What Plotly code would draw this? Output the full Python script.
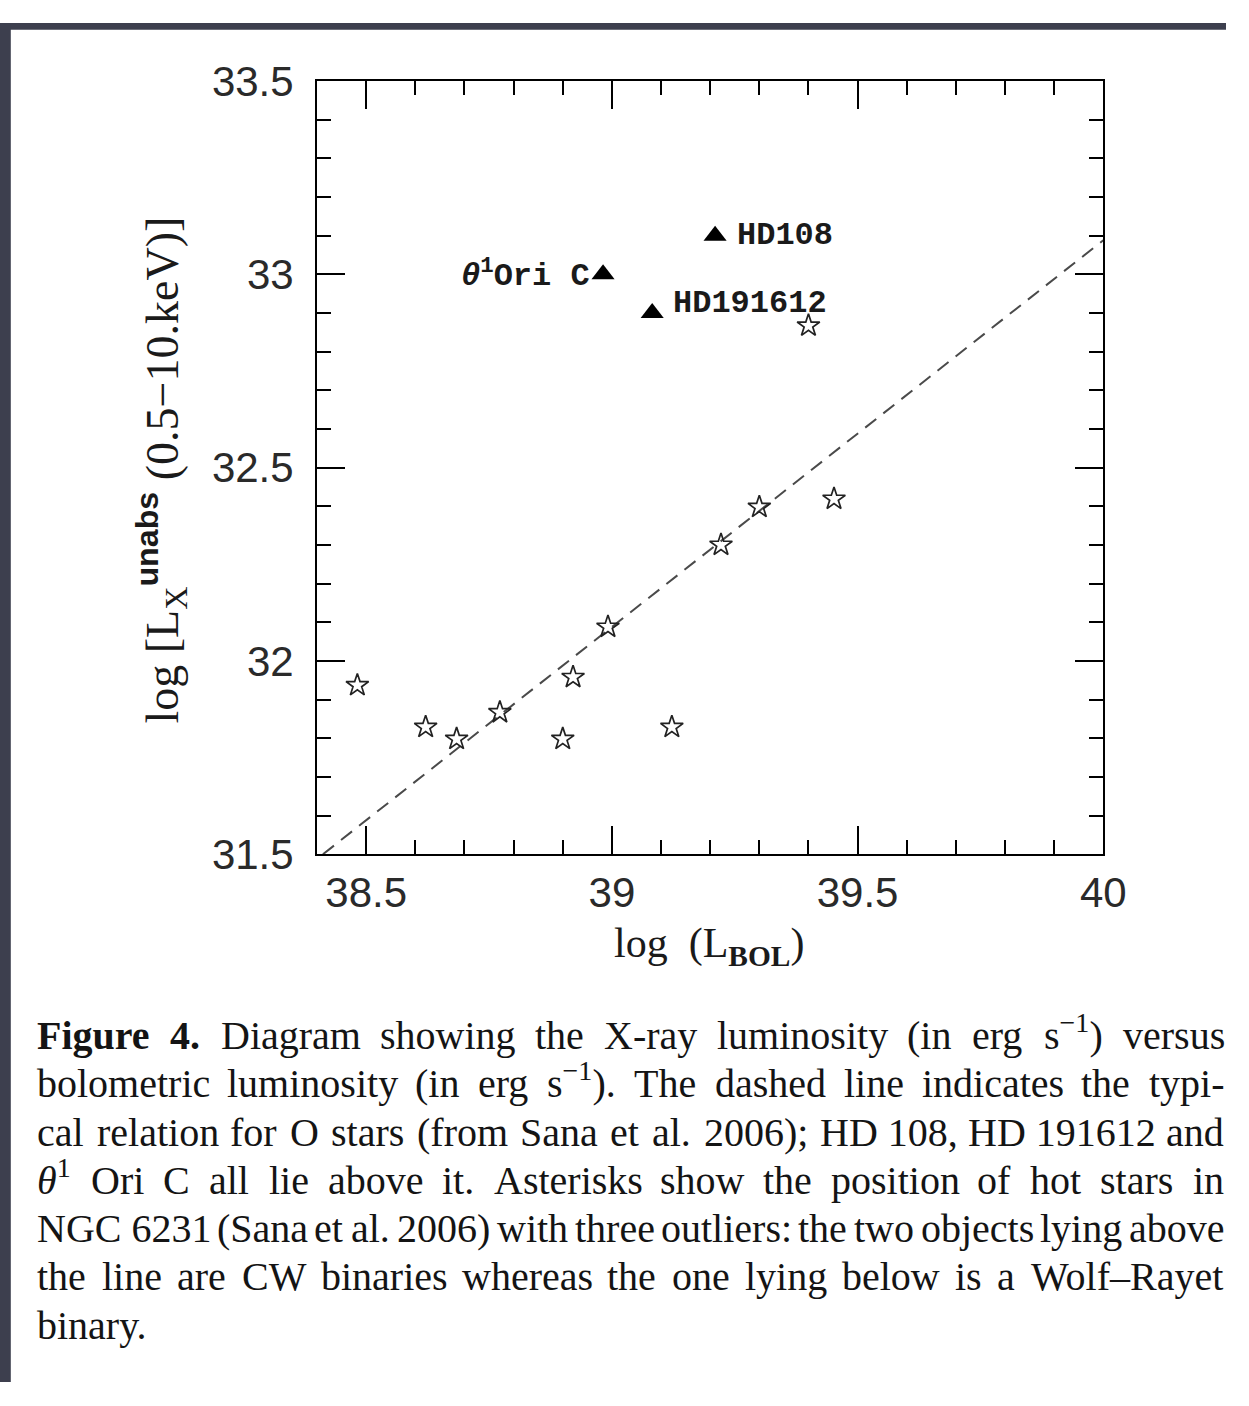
import re
import plotly.graph_objects as go

# ---------------- data ----------------
star_x = [38.482, 38.621, 38.684, 38.772, 38.900, 38.921, 38.992, 39.122, 39.222, 39.300, 39.452, 39.400]
star_y = [31.937, 31.829, 31.798, 31.867, 31.798, 31.958, 32.088, 31.829, 32.300, 32.398, 32.419, 32.867]

tri_names = ["HD108", "<i>θ</i><sup>1</sup>Ori C", "HD191612"]
tri_x = [39.210, 38.982, 39.082]
tri_y = [33.100, 33.000, 32.900]

relation_x = [38.412, 40.0]
relation_y = [31.500, 33.088]

x_range = [38.4, 40.0]
y_range = [31.5, 33.5]

caption_lines = [
    ["<b>Figure</b>", "<b>4.</b>", "Diagram", "showing", "the", "X-ray", "luminosity", "(in", "erg",
     "s<sup>−1</sup>)", "versus"],
    ["bolometric", "luminosity", "(in", "erg", "s<sup>−1</sup>).", "The", "dashed", "line", "indicates",
     "the", "typi-"],
    ["cal", "relation", "for", "O", "stars", "(from", "Sana", "et", "al.", "2006);", "HD 108,",
     "HD 191612", "and"],
    ["<i>θ</i><sup>1</sup>", "Ori", "C", "all", "lie", "above", "it.", "Asterisks", "show", "the",
     "position", "of", "hot", "stars", "in"],
    ["NGC 6231", "(Sana", "et", "al.", "2006)", "with", "three", "outliers:", "the", "two", "objects",
     "lying", "above"],
    ["the", "line", "are", "CW", "binaries", "whereas", "the", "one", "lying", "below", "is", "a",
     "Wolf–Rayet"],
    ["binary."],
]

# ---------------- figure geometry ----------------
W, H = 1249, 1406
PX_L, PX_R, PX_T, PX_B = 323, 1124, 60, 860

# Times metrics (per 1000 em) used to justify the caption like the original
REG_W = {' ': 250, '(': 333, ')': 333, ',': 250, '-': 333, '.': 250, ':': 278, ';': 278,
         '−': 564, '–': 500, 'θ': 500}
for c in '0123456789':
    REG_W[c] = 500
for c, w in zip('ABCDEFGHIJKLMNOPQRSTUVWXYZ',
                [722, 667, 667, 722, 611, 556, 722, 722, 333, 389, 722, 611, 889, 722, 722, 556,
                 722, 667, 556, 611, 722, 722, 944, 722, 722, 611]):
    REG_W[c] = w
for c, w in zip('abcdefghijklmnopqrstuvwxyz',
                [444, 500, 444, 500, 444, 333, 500, 500, 278, 278, 500, 278, 778, 500, 500, 500,
                 500, 333, 389, 278, 500, 500, 722, 500, 500, 444]):
    REG_W[c] = w
BOLD_W = dict(REG_W)
BOLD_W.update({'F': 611, 'u': 556, 'r': 444, 'e': 444})


def token_width(tok, size):
    bold = sup = False
    total = 0.0
    for part in re.split(r'(<[^>]+>)', tok):
        if part.startswith('<'):
            tag = part.strip('<>/').lower()
            closing = part.startswith('</')
            if tag == 'b':
                bold = not closing
            elif tag == 'sup':
                sup = not closing
            continue
        for ch in part:
            w = (BOLD_W if bold else REG_W).get(ch, 500)
            total += w * (0.7 if sup else 1.0)
    return total * size / 1000.0


fig = go.Figure()

fig.add_trace(go.Scatter(
    x=relation_x, y=relation_y, mode="lines",
    line=dict(color="#4a4a4a", width=2, dash="14px,9px"),
    hoverinfo="skip"))

fig.add_trace(go.Scatter(
    x=star_x, y=star_y, mode="markers",
    marker=dict(symbol="star-open", size=17, color="#222222", line=dict(width=1.7, color="#222222"))))

fig.add_trace(go.Scatter(
    x=tri_x, y=tri_y, mode="markers",
    marker=dict(symbol="triangle-up", size=20, color="black", line=dict(width=0))))

annotations = []
label_font = dict(family="Liberation Mono", size=32, color="#1a1a1a", weight="bold")
annotations.append(dict(x=tri_x[0], y=tri_y[0], xref="x", yref="y", text=tri_names[0],
                        showarrow=False, xanchor="left", yanchor="middle", xshift=20,
                        font=label_font))
annotations.append(dict(x=tri_x[1], y=tri_y[1], xref="x", yref="y", text=tri_names[1],
                        showarrow=False, xanchor="right", yanchor="middle", xshift=-11,
                        font=label_font))
annotations.append(dict(x=tri_x[2], y=tri_y[2], xref="x", yref="y", text=tri_names[2],
                        showarrow=False, xanchor="left", yanchor="middle", xshift=19, yshift=9,
                        font=label_font))

# axis titles
annotations.append(dict(x=722 / W, y=1 - 955 / H, xref="paper", yref="paper",
                        text="log  (L<sub><b>BOL</b></sub>)", showarrow=False,
                        xanchor="center", yanchor="middle",
                        font=dict(family="Liberation Serif", size=42, color="#1a1a1a")))
annotations.append(dict(x=165 / W, y=1 - 462 / H, xref="paper", yref="paper",
                        text="log [L<sub>X</sub><sup><span style='font-family:Liberation Sans;"
                             "font-weight:bold'>unabs</span></sup> (0.5−10.keV)]",
                        showarrow=False, textangle=-90, xanchor="center", yanchor="middle",
                        font=dict(family="Liberation Serif", size=46, color="#1a1a1a")))

# caption, justified word by word
CAP_SIZE = 40
CAP_X0, CAP_X1 = 38, 1246
BASE0, LEAD = 1062, 50
DESC = 0.216
cap_font = dict(family="Liberation Serif", size=CAP_SIZE, color="#141414")
for i, words in enumerate(caption_lines):
    baseline = BASE0 + i * LEAD
    ybot = 1 - (baseline + DESC * CAP_SIZE) / H
    widths = [token_width(w, CAP_SIZE) for w in words]
    if len(words) > 1 and i < len(caption_lines) - 1:
        gap = (CAP_X1 - CAP_X0 - sum(widths)) / (len(words) - 1)
    else:
        gap = 0.25 * CAP_SIZE
    x = CAP_X0
    for w, wd in zip(words, widths):
        annotations.append(dict(x=x / W, y=ybot, xref="paper", yref="paper", text=w,
                                showarrow=False, xanchor="left", yanchor="bottom",
                                borderpad=0, borderwidth=0, font=cap_font))
        x += wd + gap

# dark frame of the screenshot
shapes = [
    dict(type="rect", xref="paper", yref="paper", x0=0, x1=1, y0=1 - 7 / H, y1=1,
         fillcolor="#3d3f4e", line=dict(width=0), layer="above"),
    dict(type="rect", xref="paper", yref="paper", x0=0, x1=11 / W, y0=0, y1=1,
         fillcolor="#3d3f4e", line=dict(width=0), layer="above"),
]

tick_font = dict(family="Liberation Sans", size=42, color="#2a2a2a")
common = dict(showline=True, linecolor="black", linewidth=2, mirror="ticks",
              ticks="inside", ticklen=28, tickwidth=1.6, tickcolor="black",
              showgrid=False, zeroline=False, tickfont=tick_font)

fig.update_layout(
    width=W, height=H,
    autosize=False,
    margin=dict(l=0, r=0, t=0, b=0),
    paper_bgcolor="white", plot_bgcolor="white",
    showlegend=False,
    xaxis=dict(range=x_range, domain=[PX_L / W, PX_R / W], tickmode="linear", tick0=38.5,
               dtick=0.5, ticklabelstandoff=0,
               minor=dict(ticks="inside", ticklen=14, tickwidth=1.6, tickcolor="black",
                          tick0=38.4, dtick=0.1, showgrid=False),
               **common),
    yaxis=dict(range=y_range, domain=[1 - PX_B / H, 1 - PX_T / H], tickmode="linear", tick0=31.5,
               dtick=0.5, ticklabelstandoff=13,
               minor=dict(ticks="inside", ticklen=14, tickwidth=1.6, tickcolor="black",
                          tick0=31.5, dtick=0.1, showgrid=False),
               **common),
    annotations=annotations,
    shapes=shapes,
)

fig.write_html(
    "out.html",
    config={"responsive": False, "displayModeBar": False},
    post_script="document.documentElement.style.margin='0';document.body.style.margin='0';"
                "document.body.style.padding='0';document.body.style.overflow='hidden';"
                "document.documentElement.style.overflow='hidden';",
)
